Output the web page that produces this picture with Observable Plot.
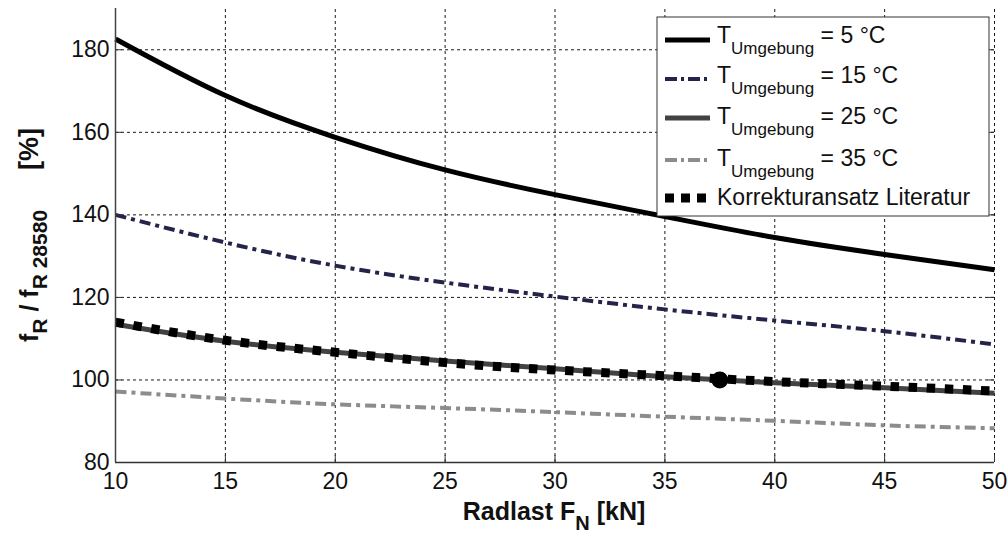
<!DOCTYPE html>
<html>
<head>
<meta charset="utf-8">
<script src="https://cdn.jsdelivr.net/npm/d3@7"></script>
<script src="https://cdn.jsdelivr.net/npm/@observablehq/plot@0.6"></script>
<style>
  html, body { margin: 0; padding: 0; background: #fff; }
  #chart { position: relative; width: 1008px; height: 533px; }
  svg { font-family: "Liberation Sans", Arial, sans-serif; }
</style>
</head>
<body>
<div id="chart"></div>
<script>
// ---- data ----
const radlast = [10, 15, 20, 25, 30, 35, 40, 45, 50];
const t5  = [182.6, 168.9, 158.8, 150.9, 144.9, 139.6, 134.5, 130.4, 126.7];
const t15 = [140.0, 133.3, 127.7, 123.6, 120.2, 117.1, 114.4, 111.8, 108.6];
const t25 = [113.5, 109.4, 106.7, 104.6, 102.7, 100.8, 99.3, 98.1, 96.8];
const t35 = [97.2, 95.5, 94.1, 93.2, 92.2, 91.1, 90.1, 89.0, 88.3];
const korrektur = [114.0, 109.6, 106.7, 104.2, 102.4, 101.0, 99.6, 98.5, 97.3];
const refPoint = [{x: 37.5, y: 100}];
const xTicks = [10, 15, 20, 25, 30, 35, 40, 45, 50];
const yTicks = [80, 100, 120, 140, 160, 180];
const legendLabels = ["= 5 °C", "= 15 °C", "= 25 °C", "= 35 °C", "Korrekturansatz Literatur"];

const series = (vals) => radlast.map((x, i) => ({x, y: vals[i]}));

const styles = [
  {data: series(t35), stroke: "#8c8c8c", strokeWidth: 4, dash: "11,5,4,5"},
  {data: series(t15), stroke: "#24244a", strokeWidth: 4, dash: "11,5,4,5"},
  {data: series(t25), stroke: "#424242", strokeWidth: 5, dash: null},
  {data: series(korrektur), stroke: "#000", strokeWidth: 9, dash: "8.5,9.6"},
  {data: series(t5), stroke: "#000", strokeWidth: 5, dash: null}
];

const chart = Plot.plot({
  width: 1008,
  height: 533,
  marginLeft: 115,
  marginRight: 14,
  marginTop: 8,
  marginBottom: 71,
  style: {fontFamily: "Liberation Sans, Arial, sans-serif", fontSize: "23px", color: "#111", background: "#fff"},
  x: {domain: [10, 50]},
  y: {domain: [80, 190]},
  marks: [
    Plot.ruleX(xTicks.slice(1), {y1: 80, y2: 190, stroke: "#000", strokeWidth: 1, strokeDasharray: "3,3", strokeOpacity: 0.9}),
    Plot.ruleY(yTicks.slice(1), {x1: 10, x2: 50, stroke: "#000", strokeWidth: 1, strokeDasharray: "3,3", strokeOpacity: 0.9}),
    ...styles.map(s => Plot.line(s.data, {
      x: "x", y: "y", curve: "natural",
      stroke: s.stroke, strokeWidth: s.strokeWidth,
      strokeDasharray: s.dash, strokeLinecap: "butt", strokeLinejoin: "round"
    })),
    Plot.dot(refPoint, {x: "x", y: "y", r: 8.5, fill: "#000"}),
    // inward tick marks
    Plot.ruleX(xTicks, {y1: 80, y2: 81.7, stroke: "#333", strokeWidth: 1}),
    Plot.ruleY(yTicks, {x1: 10, x2: 10.32, stroke: "#333", strokeWidth: 1}),
    Plot.ruleY(yTicks.slice(1), {x1: 49.7, x2: 50, stroke: "#333", strokeWidth: 1}),
    Plot.ruleX([10], {y1: 80, y2: 190, stroke: "#444", strokeWidth: 1.5}),
    Plot.ruleY([80], {x1: 10, x2: 50, stroke: "#333", strokeWidth: 1.5}),
    Plot.axisX(xTicks, {tickSize: 0, tickPadding: 10, label: null, fontSize: 23}),
    Plot.axisY(yTicks, {tickSize: 0, tickPadding: 6, label: null, fontSize: 23})
  ]
});

document.getElementById("chart").appendChild(chart);

const svg = d3.select(chart);
const font = "Liberation Sans, Arial, sans-serif";

// x axis label
const xl = svg.append("text")
  .attr("x", 554).attr("y", 520)
  .attr("text-anchor", "middle")
  .attr("font-family", font).attr("font-weight", "bold").attr("font-size", 25).attr("fill", "#111");
xl.append("tspan").text("Radlast F");
xl.append("tspan").attr("dy", 10).attr("font-size", 20).text("N");
xl.append("tspan").attr("dy", -10).text(" [kN]");

// y axis label (rotated)
const yl = svg.append("text")
  .attr("transform", "translate(38,342) rotate(-90)")
  .attr("text-anchor", "start")
  .attr("font-family", font).attr("font-weight", "bold").attr("font-size", 25).attr("fill", "#111");
yl.append("tspan").text("f");
yl.append("tspan").attr("dy", 9).attr("font-size", 21).text("R");
yl.append("tspan").attr("dy", -9).text(" / f");
yl.append("tspan").attr("dy", 9).attr("font-size", 21).text("R 28580");

svg.append("text")
  .attr("transform", "translate(38,170) rotate(-90)")
  .attr("text-anchor", "start")
  .attr("font-family", font).attr("font-weight", "bold").attr("font-size", 27).attr("fill", "#111")
  .text("[%]");

// legend
const lg = svg.append("g").attr("text-anchor", "start");
lg.append("rect").attr("x", 657).attr("y", 17).attr("width", 332).attr("height", 199)
  .attr("fill", "#fff").attr("stroke", "#333").attr("stroke-width", 1);
const sampleY = [40, 79, 118, 160, 198];
const baseY = [43, 83, 124, 166, 205];
const legendOrder = [4, 1, 2, 0, 3]; // index into styles: t5, t15, t25, t35, korrektur
legendOrder.forEach((si, i) => {
  const s = styles[si];
  const dash = si === 3 ? "9,7" : (s.dash ? "12,4,3,4" : null);
  lg.append("line").attr("x1", 665).attr("x2", 710).attr("y1", sampleY[i]).attr("y2", sampleY[i])
    .attr("stroke", s.stroke).attr("stroke-width", si === 3 ? 9 : s.strokeWidth)
    .attr("stroke-dasharray", dash);
  const t = lg.append("text").attr("x", 717).attr("y", baseY[i])
    .attr("text-anchor", "start")
    .attr("font-family", font).attr("font-size", 23).attr("fill", "#111");
  if (i < 4) {
    t.append("tspan").text("T");
    t.append("tspan").attr("dy", 11).attr("font-size", 17).text("Umgebung");
    t.append("tspan").attr("dy", -11).text(" " + legendLabels[i]);
  } else {
    t.text(legendLabels[i]);
  }
});
</script>
</body>
</html>
